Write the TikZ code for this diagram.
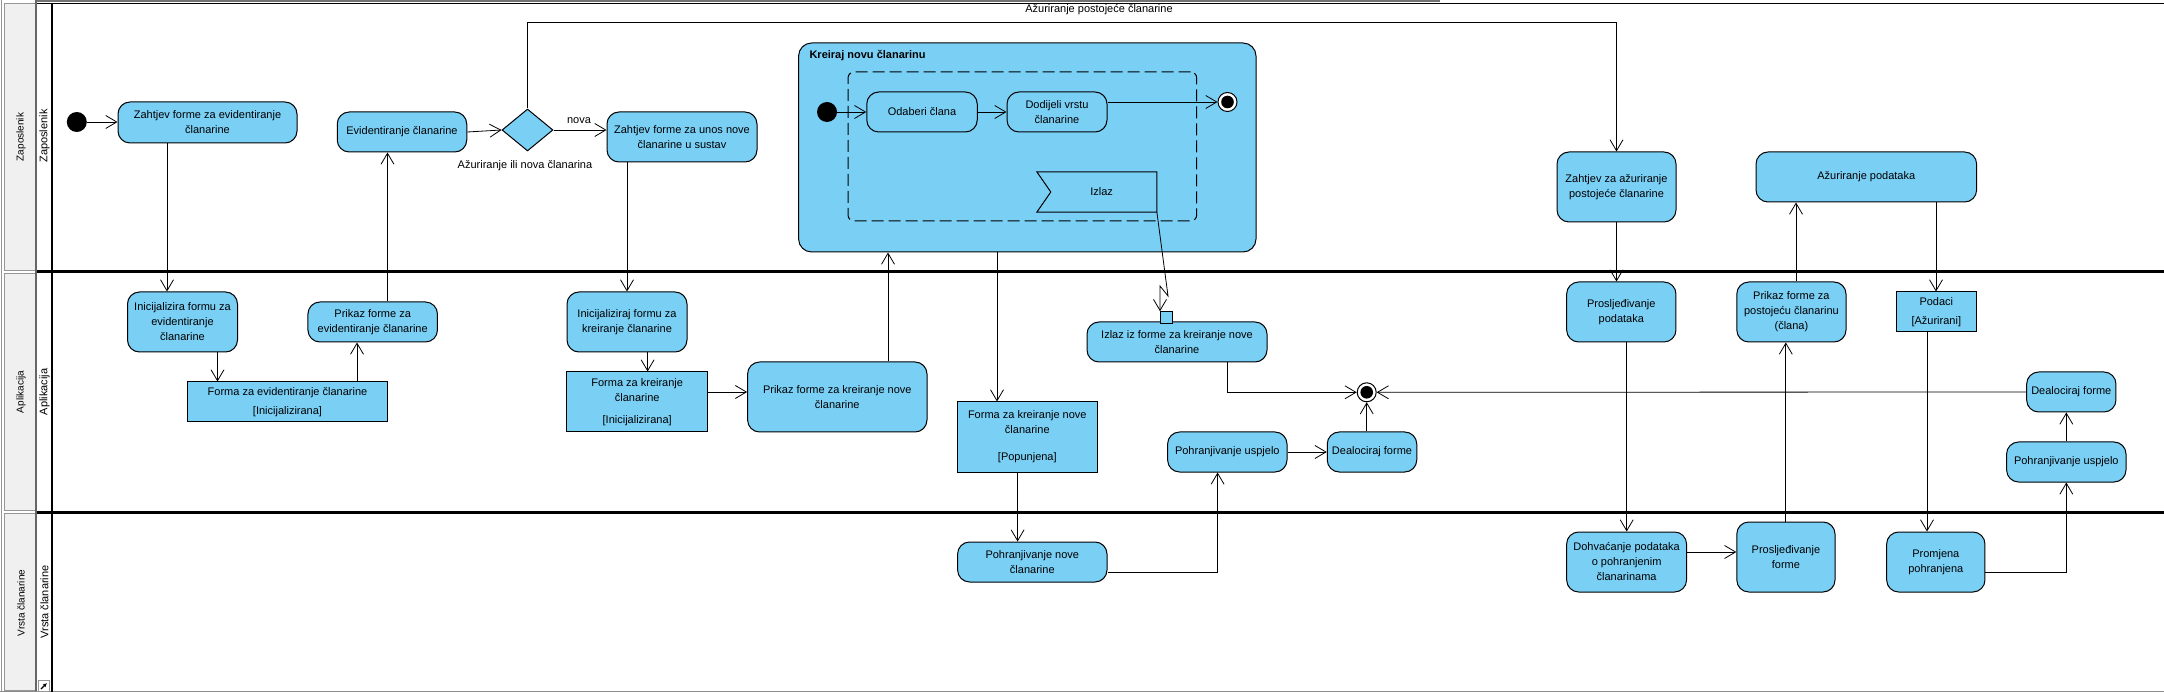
\documentclass[tikz,border=0pt]{standalone}
\usepackage{fontspec}
\setmainfont{Liberation Sans}
\usetikzlibrary{arrows.meta,shapes.geometric,calc}
\definecolor{actfill}{RGB}{122,207,245}
\definecolor{lanegray}{RGB}{240,240,240}
\definecolor{laneedge}{RGB}{150,150,150}
\tikzset{
  every node/.style={font=\fontsize{11}{15}\selectfont, text=black},
  act/.style={draw=black, line width=1pt, fill=actfill, rounded corners=12pt, align=center, inner sep=1pt},
  obj/.style={draw=black, line width=1pt, fill=actfill, align=center, inner sep=1pt},
  conn/.style={line width=0.8pt, -{Straight Barb[length=11pt,width=13pt]}},
  plainline/.style={line width=0.8pt},
  initnode/.style={circle, fill=black, minimum size=20pt, inner sep=0pt},
  finalnode/.style={circle, draw=black, line width=1pt, fill=white, minimum size=19pt, inner sep=0pt},
  lanelab/.style={rotate=90, font=\fontsize{10}{12}\selectfont},
  lanelabb/.style={rotate=90, font=\fontsize{11}{13}\selectfont},
  lanepanel/.style={draw=laneedge, fill=lanegray, line width=1pt},
}
\begin{document}
\begin{tikzpicture}[x=1pt,y=-1pt]
\useasboundingbox (0,0) rectangle (2164,692);
\fill[white] (0,0) rectangle (2164,692);

% ---------- frame / swimlanes ----------
\draw[laneedge, line width=1pt] (1,0) -- (1,692);
\draw[lanepanel] (4.5,4) rectangle (35,270.5);
\draw[lanepanel] (4.5,273.5) rectangle (35,510.5);
\draw[lanepanel] (4.5,513.5) rectangle (35,690);
\draw[black!60, line width=1.2pt] (36,0) -- (36,692);
\fill[black!55] (37,0) rectangle (1440,2.5);
\draw[black, line width=1.5pt] (37,3.5) -- (2164,3.5);
\draw[black!45, line width=1pt] (0,691.5) -- (2164,691.5);
\draw[black, line width=2.6pt] (52,3) -- (52,692);
\draw[black, line width=3pt] (37,272) -- (2164,272);
\draw[black, line width=3pt] (37,512) -- (2164,512);

\node[lanelab] (lg1) at (21,137) {Zaposlenik};
\node[lanelab] (lg2) at (21,392) {Aplikacija};
\node[lanelab] (lg3) at (21,603) {Vrsta članarine};
\node[lanelabb] (lw1) at (44.5,136) {Zaposlenik};
\node[lanelabb] (lw2) at (44.5,392) {Aplikacija};
\node[lanelabb] (lw3) at (44.5,602) {Vrsta članarine};

\node[draw=laneedge, fill=white, minimum size=11pt, inner sep=0pt] (icon) at (44,686) {};
\draw[-{Latex[length=4pt,width=4pt]}, line width=1.2pt] ($(icon.center)+(-3,3)$) -- ($(icon.center)+(3,-3)$);

% ---------- lane Zaposlenik ----------
\node[initnode] (init1) at (76.8,122) {};
\node[act, minimum width=179pt, minimum height=41pt] (z1) at (207.5,122.5) {Zahtjev forme za evidentiranje\\članarine};
\node[act, minimum width=129.5pt, minimum height=40pt] (z2) at (402,132) {Evidentiranje članarine};
\node[diamond, draw=black, line width=1pt, fill=actfill, minimum width=51pt, minimum height=42pt, inner sep=0pt] (dec) at (527.5,130) {};
\node (ldec) at (525,166) {Ažuriranje ili nova članarina};
\node (lnova) at (579,121) {nova};
\node[act, minimum width=150pt, minimum height=50pt] (z3) at (682,137) {Zahtjev forme za unos nove\\članarine u sustav};

% superstate
\node[draw=black, line width=1pt, fill=actfill, rounded corners=13pt, minimum width=457.4pt, minimum height=209pt, inner sep=0pt] (super) at (1027.3,147.5) {};
\node[anchor=west, font=\fontsize{11}{13}\selectfont\bfseries] (suptitle) at (806,56) {Kreiraj novu članarinu};
\node[draw=black, line width=1pt, dash pattern=on 12pt off 5pt, rounded corners=6pt, minimum width=348.7pt, minimum height=149pt, inner sep=0pt] (region) at (1022.35,146.5) {};
\node[initnode] (init2) at (827,112) {};
\node[act, minimum width=110.5pt, minimum height=40pt] (odab) at (922,112) {Odaberi člana};
\node[act, minimum width=100pt, minimum height=40pt] (dodij) at (1057,112) {Dodijeli vrstu\\članarine};
\node[finalnode] (fin2) at (1227.5,102) {};
\fill[black] (fin2.center) circle (6.3pt);
\node[minimum width=119.7pt, minimum height=40pt, inner sep=0pt] (izlaz) at (1096.85,192) {};
\draw[line width=1pt, fill=actfill] (izlaz.north west) -- (izlaz.north east) -- (izlaz.south east) -- (izlaz.south west) -- ($(izlaz.west)+(14,0)$) -- cycle;
\node (izlaztxt) at (1101.6,192) {Izlaz};

\node[act, minimum width=119pt, minimum height=70pt] (z4) at (1616.5,187) {Zahtjev za ažuriranje\\postojeće članarine};
\node[act, minimum width=220.6pt, minimum height=50pt] (z5) at (1866.3,177) {Ažuriranje podataka};

% ---------- lane Aplikacija ----------
\node[act, minimum width=110pt, minimum height=60pt] (a1) at (182.5,322) {Inicijalizira formu za\\evidentiranje\\članarine};
\node[act, minimum width=129.5pt, minimum height=40pt] (a2) at (372.7,322) {Prikaz forme za\\evidentiranje članarine};
\node[obj, minimum width=200pt, minimum height=40pt] (a3) at (287.5,402) {Forma za evidentiranje članarine\\[4pt][Inicijalizirana]};
\node[act, minimum width=120pt, minimum height=60pt] (a4) at (627,322) {Inicijaliziraj formu za\\kreiranje članarine};
\node[obj, minimum width=140.5pt, minimum height=60pt] (a5) at (637.2,402) {Forma za kreiranje\\članarine\\[7pt][Inicijalizirana]};
\node[act, minimum width=179.4pt, minimum height=70pt] (a6) at (837.3,397) {Prikaz forme za kreiranje nove\\članarine};
\node[obj, minimum width=139.4pt, minimum height=70pt] (a7) at (1027.3,437) {Forma za kreiranje nove\\članarine\\[12pt][Popunjena]};
\node[act, minimum width=180pt, minimum height=40pt] (a8) at (1177,342) {Izlaz iz forme za kreiranje nove\\članarine};
\node[draw=black, line width=1pt, fill=actfill, minimum size=11.6pt, inner sep=0pt] (pin) at (1166.5,317.5) {};
\node[act, minimum width=119.4pt, minimum height=40pt] (a9) at (1227.3,452) {Pohranjivanje uspjelo};
\node[act, minimum width=89.5pt, minimum height=40pt] (a10) at (1372,452) {Dealociraj forme};
\node[finalnode] (fin1) at (1366.7,392.3) {};
\fill[black] (fin1.center) circle (6.3pt);
\node[act, minimum width=109.3pt, minimum height=60pt] (a11) at (1621.3,312) {Prosljeđivanje\\podataka};
\node[act, minimum width=109.2pt, minimum height=60pt] (a12) at (1791.4,312) {Prikaz forme za\\postojeću članarinu\\(člana)};
\node[obj, minimum width=80.6pt, minimum height=40pt] (a13) at (1936.3,312) {Podaci\\[4pt][Ažurirani]};
\node[act, minimum width=89.3pt, minimum height=40pt] (a14) at (2071.3,392) {Dealociraj forme};
\node[act, minimum width=119.4pt, minimum height=40pt] (a15) at (2066.3,462) {Pohranjivanje uspjelo};

% ---------- lane Vrsta članarine ----------
\node[act, minimum width=149.4pt, minimum height=40pt] (v1) at (1032.3,562) {Pohranjivanje nove\\članarine};
\node[act, minimum width=119.9pt, minimum height=60pt] (v2) at (1626.6,562) {Dohvaćanje podataka\\o pohranjenim\\članarinama};
\node[act, minimum width=98.2pt, minimum height=70pt] (v3) at (1785.9,557) {Prosljeđivanje\\forme};
\node[act, minimum width=98.3pt, minimum height=60pt] (v4) at (1935.8,562) {Promjena\\pohranjena};

% ---------- connectors ----------
\draw[conn] (init1.east) -- (init1.east -| z1.west);
\draw[conn] (167,0 |- z1.south) -- (167,0 |- a1.north);
\draw[conn] (217.5,0 |- a1.south) -- (217.5,0 |- a3.north);
\draw[conn] (357,0 |- a3.north) -- (357,0 |- a2.south);
\draw[conn] (387.5,0 |- a2.north) -- (387.5,0 |- z2.south);
\draw[conn] (z2.east) -- (dec.west);
\draw[conn] (dec.east) -- (dec.east -| z3.west);
\coordinate (bendtop) at (527.5,22);
\draw[conn] (dec.north) -- (bendtop) -| (z4.north);
\node (ltop) at (1099,10) {Ažuriranje postojeće članarine};
\draw[conn] (627,0 |- z3.south) -- (627,0 |- a4.north);
\draw[conn] (647.6,0 |- a4.south) -- (647.6,0 |- a5.north);
\draw[conn] (a5.east |- 0,392) -- (a6.west |- 0,392);
\draw[conn] (888,0 |- a6.north) -- (888,0 |- super.south);
\draw[conn] (997,0 |- super.south) -- (997,0 |- a7.north);
\draw[conn] (1017.6,0 |- a7.south) -- (1017.6,0 |- v1.north);
\draw[conn] (v1.east |- 0,572) -| (1217.6,0 |- a9.south);
\draw[conn] (a9.east) -- (a10.west);
\draw[conn] (a10.north -| fin1) -- (fin1.south);
\draw[conn] (1227.3,0 |- a8.south) |- (fin1.west);
\draw[conn] (a14.west) -- (fin1.east);
\draw[conn] (init2.east) -- (odab.west);
\draw[conn] (odab.east) -- (dodij.west);
\draw[conn] (dodij.east |- fin2.west) -- (fin2.west);
\coordinate (lz1) at (1168,296);
\coordinate (lz2) at (1160,286);
\draw[conn] (izlaz.south east) -- (lz1) -- (lz2) -- (lz2 |- pin.north);
\draw[conn] (z4.south) -- (z4.south |- a11.north);
\draw[conn] (1626.7,0 |- a11.south) -- (1626.7,0 |- v2.north);
\draw[conn] (v2.east |- 0,552) -- (v3.west |- 0,552);
\draw[conn] (1785.8,0 |- v3.north) -- (1785.8,0 |- a12.south);
\draw[conn] (1796,0 |- a12.north) -- (1796,0 |- z5.south);
\draw[conn] (1936,0 |- z5.south) -- (1936,0 |- a13.north);
\draw[conn] (1927,0 |- a13.south) -- (1927,0 |- v4.north);
\draw[conn] (v4.east |- 0,572) -| (a15.south);
\draw[conn] (a15.north) -- (a15.north |- a14.south);
\end{tikzpicture}
\end{document}
